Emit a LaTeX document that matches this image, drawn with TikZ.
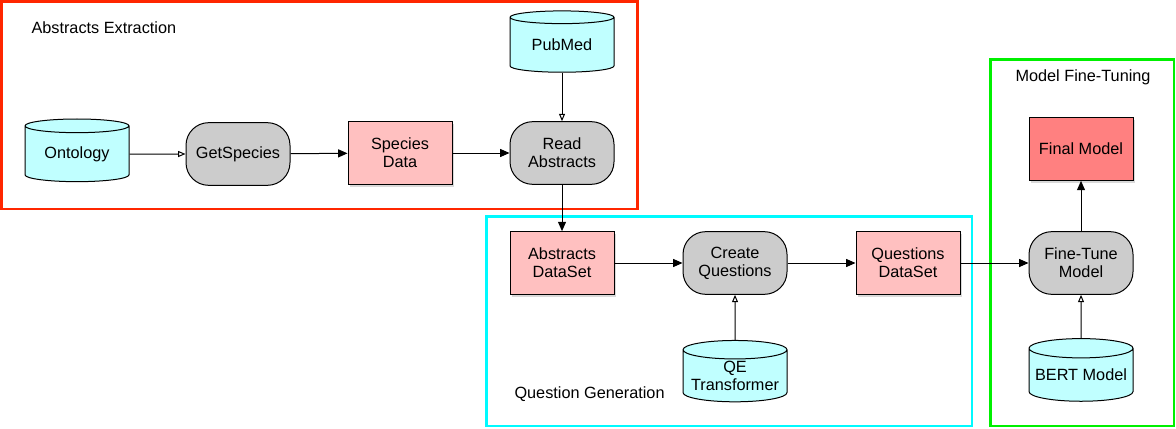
\documentclass[tikz,border=0pt]{standalone}
\usepackage{fontspec}
\setmainfont{Liberation Sans}
\usetikzlibrary{shapes.geometric,shadows,arrows.meta}

\definecolor{frameRed}{RGB}{255,38,0}
\definecolor{frameCyan}{RGB}{0,250,255}
\definecolor{frameGreen}{RGB}{0,240,0}
\definecolor{dbFill}{RGB}{192,255,255}
\definecolor{taskFill}{RGB}{204,204,204}
\definecolor{dataFill}{RGB}{255,192,192}
\definecolor{finalFill}{RGB}{255,128,128}

\tikzset{every picture/.style={line width=0.75pt},
  txt/.style={font=\fontsize{12.2}{13.5}\selectfont, align=center},
  dbnode/.style={txt, cylinder, shape border rotate=90, aspect=0.21, draw, fill=dbFill,
    minimum width=78pt, minimum height=47pt, inner sep=0pt},
  tasknode/.style={txt, draw, fill=taskFill, rounded corners=17pt,
    minimum width=78pt, minimum height=47pt, inner sep=0pt},
  datanode/.style={txt, draw, fill=dataFill, minimum width=78pt, minimum height=47pt, inner sep=0pt,
    drop shadow={opacity=0.3, shadow xshift=1.5pt, shadow yshift=-2pt}},
  groupframe/.style={line width=1.8pt},
  flow/.style={-{Triangle[length=7pt,width=6pt]}},
  feed/.style={-{Triangle[open,length=5.5pt,width=4.5pt]}}
}

\begin{document}
\begin{tikzpicture}[x=0.75pt,y=0.75pt,yscale=-1,xscale=1]
\useasboundingbox (0,0) rectangle (1176,428);

%Group frames
\draw [groupframe, color=frameRed] (1.5,1.5) rectangle (637.5,209) ;
\draw [groupframe, color=frameCyan] (486.5,216.5) rectangle (972,426) ;
\draw [groupframe, color=frameGreen] (990.5,59.5) rectangle (1174,426) ;

% Text Node
\draw (30,28) node [txt, anchor=west][inner sep=0.75pt] (lblExtract) {Abstracts Extraction};
% Text Node
\draw (513,394) node [txt, anchor=west][inner sep=0.75pt] (lblGenerate) {Question Generation};
% Text Node
\draw (1014,77) node [txt, anchor=west][inner sep=0.75pt] (lblTune) {Model Fine-Tuning};

%Abstracts extraction
\node [dbnode] (ontology) at (77,154) {Ontology};
\node [tasknode] (getspecies) at (238,154) {GetSpecies};
\node [datanode] (speciesdata) at (400,153) {Species\\Data};
\node [tasknode] (readabs) at (562,153) {Read\\Abstracts};
\node [dbnode, minimum height=46pt] (pubmed) at (562,45) {PubMed};

%Question generation
\node [datanode] (absdata) at (562,263) {Abstracts\\DataSet};
\node [tasknode] (createq) at (735,263) {Create\\Questions};
\node [datanode] (qdata) at (908,263) {Questions\\DataSet};
\node [dbnode, minimum height=46pt] (qetrans) at (735,376) {QE\\Transformer};

%Model fine-tuning
\node [tasknode] (finetune) at (1081,263) {Fine-Tune\\Model};
\node [datanode, fill=finalFill] (finalmodel) at (1081,149) {Final Model};
\node [dbnode] (bert) at (1081,375) {BERT Model};

%Connectors
\draw [feed] (ontology) -- (getspecies) ;
\draw [flow] (getspecies) -- (speciesdata) ;
\draw [flow] (speciesdata) -- (readabs) ;
\draw [feed] (pubmed) -- (readabs) ;
\draw [flow] (readabs) -- (absdata) ;
\draw [flow] (absdata) -- (createq) ;
\draw [flow] (createq) -- (qdata) ;
\draw [feed] (qetrans) -- (createq) ;
\draw [flow] (qdata) -- (finetune) ;
\draw [feed] (bert) -- (finetune) ;
\draw [flow] (finetune) -- (finalmodel) ;
\end{tikzpicture}
\end{document}
